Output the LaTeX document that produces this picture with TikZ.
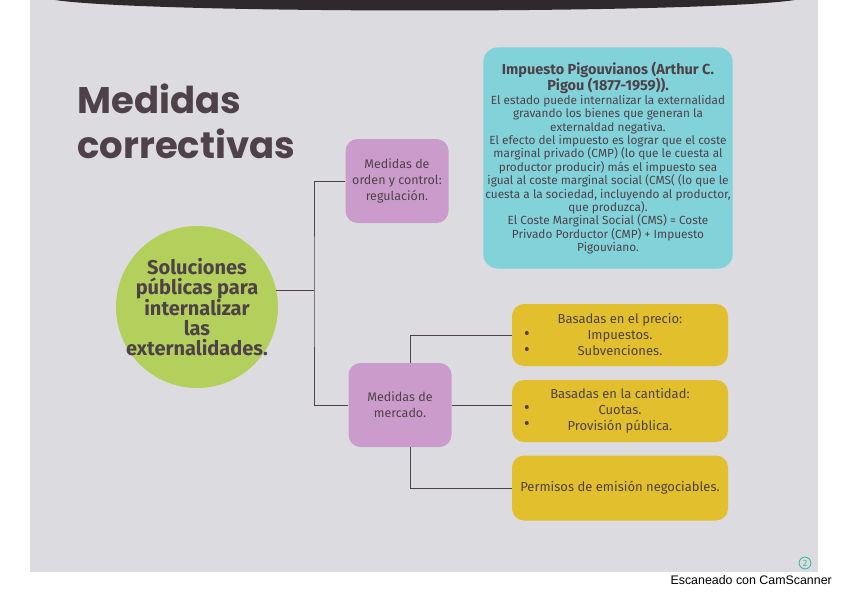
\documentclass[tikz,border=0pt]{standalone}
\usepackage{fontspec}
\setmainfont{Fira Sans}
\newfontfamily\titlefont{Poppins}
\newfontfamily\scanfont{Liberation Sans}
\usetikzlibrary{positioning,calc}

\definecolor{paper}{HTML}{DCDBE0}
\definecolor{ink}{HTML}{4E4248}
\definecolor{limeg}{HTML}{B4D05C}
\definecolor{lilac}{HTML}{CB9CCB}
\definecolor{aqua}{HTML}{82D2DA}
\definecolor{mustard}{HTML}{E2BF2C}
\definecolor{band}{HTML}{2E2A2B}
\definecolor{pagenum}{HTML}{3FB8A8}

\newcommand{\pgtitle}{\bfseries\fontsize{14.5}{15}\selectfont}

\tikzset{
  medbox/.style={rectangle, rounded corners=12pt, fill=lilac, text=ink,
    minimum width=103pt, minimum height=84pt, align=center, inner sep=2pt,
    font=\fontsize{12.5}{16}\selectfont},
  basebox/.style={rectangle, rounded corners=12pt, fill=mustard, text=ink,
    minimum width=216pt, minimum height=62pt, align=center, inner sep=2pt,
    font=\fontsize{13}{16}\selectfont},
  infobox/.style={rectangle, rounded corners=14pt, fill=aqua, text=ink,
    minimum width=249pt, minimum height=221pt, align=center, inner sep=2pt,
    font=\fontsize{11.8}{13.4}\selectfont},
  conn/.style={draw=ink, line width=1pt},
}

\begin{document}
\begin{tikzpicture}[x=1pt, y=-1pt]
    % Page and scan
    \useasboundingbox (0,0) rectangle (848,599);
    \fill[white] (0,0) rectangle (848,599);
    \fill[paper] (30,0) rectangle (818,572);
    \fill[band] (55,0) .. controls (150,14) and (700,14) .. (795,0) -- cycle;

    % Title
    \node[anchor=base west, text=ink, align=left,
      font=\titlefont\bfseries\fontsize{37}{45}\selectfont] (title) at (74,158)
      {Medidas\\correctivas};

    % Main nodes
    \node[circle, fill=limeg, minimum size=162pt, inner sep=0pt] (sol) at (197,307) {};
    \node[text=ink, align=center, font=\bfseries\fontsize{20}{20}\selectfont]
      (soltext) at (sol.center)
      {Soluciones\\públicas para\\internalizar\\las\\externalidades.};

    \node[medbox] (orden) at (397,181) {Medidas de\\orden y control:\\regulación.};
    \node[medbox] (mercado) at (400,405) {Medidas de\\mercado.};

    \node[infobox] (pigou) at (608,158)
      {{\pgtitle Impuesto Pigouvianos (Arthur C.}\\
       {\pgtitle Pigou (1877-1959)).}\\
       El estado puede internalizar la externalidad\\
       gravando los bienes que generan la\\
       externaldad negativa.\\
       El efecto del impuesto es lograr que el coste\\
       marginal privado (CMP) (lo que le cuesta al\\
       productor producir) más el impuesto sea\\
       igual al coste marginal social (CMS( (lo que le\\
       cuesta a la sociedad, incluyendo al productor,\\
       que produzca).\\
       El Coste Marginal Social (CMS) = Coste\\
       Privado Porductor (CMP) + Impuesto\\
       Pigouviano.};

    \node[basebox] (precio) at (620,335) {Basadas en el precio:\\Impuestos.\\Subvenciones.};
    \node[basebox] (cantidad) at (620,411) {Basadas en la cantidad:\\Cuotas.\\Provisión pública.};
    \node[basebox, minimum height=65pt] (permisos) at (620,488) {Permisos de emisión negociables.};

    % Bullets
    \foreach \b/\dy in {precio/-2, precio/14, cantidad/-4, cantidad/12}
        \fill[ink] (\b.west) ++(15,\dy) circle (2);

    % Connectors
    \coordinate (tr) at (314,290);
    \coordinate (br) at (410,335);
    \draw[conn] (sol.12) -- (sol.12 -| tr);
    \draw[conn] (orden.west) -| (tr) |- (mercado.west);
    \draw[conn] (precio.west) -| (br) -- (br |- mercado.north);
    \draw[conn] (mercado.east) -- (mercado.east -| cantidad.west);
    \draw[conn] (mercado.south -| br) |- (permisos.west);

    % Page number and scan mark
    \node[circle, draw=pagenum, line width=0.9pt, inner sep=1.5pt, text=pagenum,
      font=\fontsize{9}{9}\selectfont] (pg) at (805,563) {2};
    \node[anchor=base west, text=black, font=\scanfont\fontsize{12.4}{14}\selectfont]
      (scan) at (667,584) {Escaneado con CamScanner};
\end{tikzpicture}
\end{document}
